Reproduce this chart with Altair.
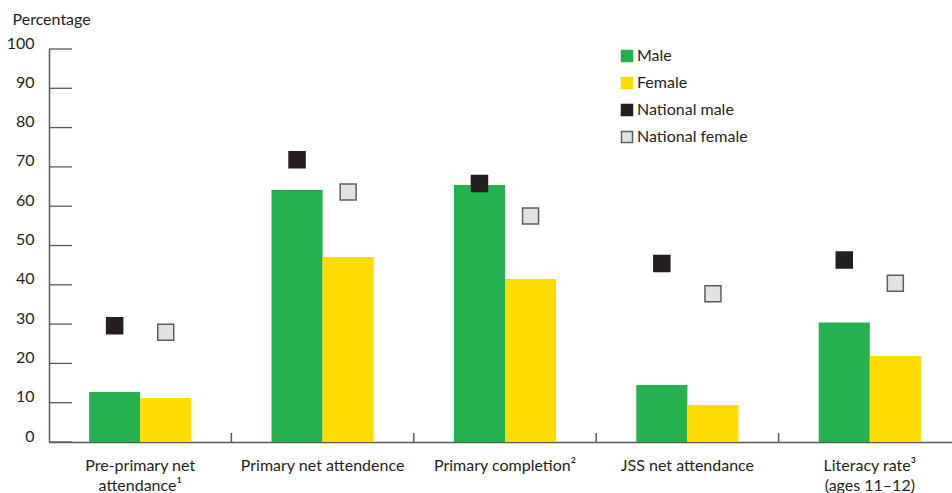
import altair as alt
import pandas as pd

# Indicator groups (line breaks mark where the axis label wraps)
categories = [
    "Pre-primary net\nattendance¹",
    "Primary net attendence",
    "Primary completion²",
    "JSS net attendance",
    "Literacy rate³\n(ages 11–12)",
]
male = [12.7, 64.1, 65.4, 14.5, 30.4]
female = [11.2, 47.1, 41.5, 9.4, 21.9]
national_male = [29.6, 71.8, 65.8, 45.4, 46.3]
national_female = [27.9, 63.6, 57.5, 37.7, 40.4]
y_ticks = list(range(0, 101, 10))

series = ["Male", "Female", "National male", "National female"]
fills = ["#25b24e", "#ffdc00", "#231f20", "#e1e2e4"]
edges = ["#25b24e", "#ffdc00", "#231f20", "#5e5e5e"]

INK = "#231f20"
AXIS_GREY = "#5a5a5a"

bar_rows = []
point_rows = []
for i, cat in enumerate(categories):
    bar_rows.append({"category": cat, "sex": "Male", "series": "Male", "value": male[i]})
    bar_rows.append({"category": cat, "sex": "Female", "series": "Female", "value": female[i]})
    point_rows.append({"category": cat, "sex": "Male", "series": "National male", "value": national_male[i]})
    point_rows.append({"category": cat, "sex": "Female", "series": "National female", "value": national_female[i]})
bars_df = pd.DataFrame(bar_rows)
points_df = pd.DataFrame(point_rows)
ytick_df = pd.DataFrame({"value": y_ticks})
xtick_df = pd.DataFrame({"category": categories[1:]})

x_scale = alt.Scale(domain=categories, range=[0, 912], paddingInner=0, paddingOuter=0)
y_scale = alt.Scale(domain=[0, 100], nice=False, zero=True)
offset_scale = alt.Scale(domain=["Male", "Female"], paddingInner=0, paddingOuter=0.785)

legend = alt.Legend(
    title=None, orient="none", legendX=570, legendY=-1, padding=0,
    symbolType="square", symbolSize=121, symbolStrokeWidth=1.5, symbolOpacity=1,
    labelFont="Lato", labelFontSize=16, labelColor=INK, labelOffset=2, rowPadding=9,
)
color_scale = alt.Scale(domain=series, range=fills)
stroke_scale = alt.Scale(domain=series, range=edges)

x_axis = alt.Axis(
    title=None, labelAngle=0, tickSize=0, labelPadding=15,
    labelExpr="split(datum.label, '\\n')", labelLineHeight=20,
    labelFont="Lato", labelFontSize=16, labelColor=INK,
    labelBaseline="top", domainColor=AXIS_GREY, domainWidth=1.5,
)
y_axis = alt.Axis(
    values=y_ticks, tickCount=11, tickSize=0, labelPadding=15, labelOffset=-6,
    labelOverlap=False, labelFont="Lato", labelFontSize=16, labelColor=INK, grid=False,
    domainColor=AXIS_GREY, domainWidth=1.5,
    title="Percentage", titleAngle=0, titleAlign="left", titleBaseline="alphabetic",
    titleX=-37, titleY=-25, titleFont="Lato", titleFontSize=16,
    titleFontWeight="normal", titleColor=INK,
)

bars = alt.Chart(bars_df).mark_bar().encode(
    x=alt.X("category:N", scale=x_scale, axis=x_axis, sort=categories),
    xOffset=alt.XOffset("sex:N", scale=offset_scale, sort=["Male", "Female"]),
    y=alt.Y("value:Q", scale=y_scale, axis=y_axis),
    color=alt.Color("series:N", scale=color_scale, legend=legend),
)

squares = alt.Chart(points_df).mark_square(
    filled=True, size=256, strokeWidth=1.5, opacity=1
).encode(
    x=alt.X("category:N", scale=x_scale, axis=x_axis, sort=categories),
    xOffset=alt.XOffset("sex:N", scale=offset_scale, sort=["Male", "Female"]),
    y=alt.Y("value:Q", scale=y_scale, axis=y_axis),
    color=alt.Color("series:N", scale=color_scale, legend=legend),
    stroke=alt.Stroke("series:N", scale=stroke_scale, legend=legend),
)

# Short inward-pointing ticks on the value axis
y_tick_marks = alt.Chart(ytick_df).mark_rule(color=AXIS_GREY, strokeWidth=1.3).encode(
    y=alt.Y("value:Q", scale=y_scale, axis=y_axis),
    x=alt.value(0),
    x2=alt.value(23),
)

# Upward ticks separating the indicator groups
x_tick_marks = alt.Chart(xtick_df).mark_rule(color=AXIS_GREY, strokeWidth=1.5).encode(
    x=alt.X("category:N", scale=x_scale, axis=x_axis, bandPosition=0, sort=categories),
    y=alt.value(384),
    y2=alt.value(393),
)

chart = alt.layer(bars, squares, y_tick_marks, x_tick_marks).properties(
    width=903,
    height=393,
    padding={"left": 49, "top": 49, "right": 0, "bottom": 51},
    autosize=alt.AutoSizeParams(type="none"),
).configure(font="Lato").configure_view(stroke=None)

chart.save("out.html", embed_options={"renderer": "svg", "actions": False})
